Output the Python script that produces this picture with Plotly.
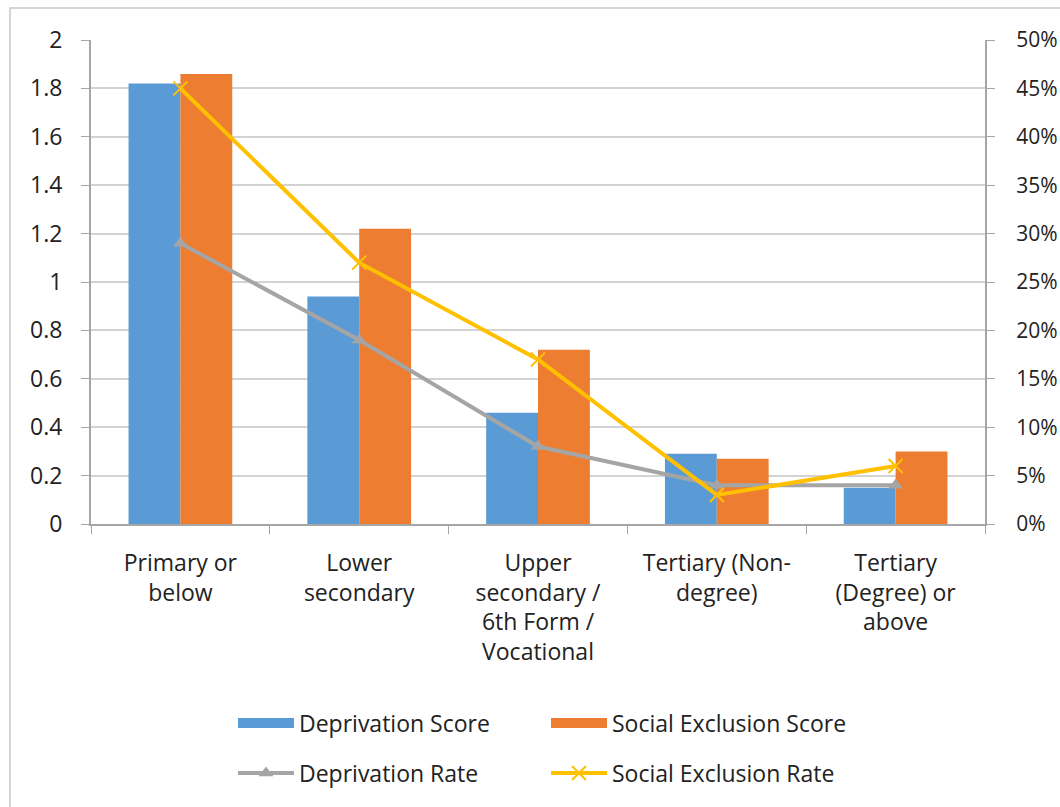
import plotly.graph_objects as go

categories = [
    "Primary or<br>below",
    "Lower<br>secondary",
    "Upper<br>secondary /<br>6th Form /<br>Vocational",
    "Tertiary (Non-<br>degree)",
    "Tertiary<br>(Degree) or<br>above",
]
deprivation_score = [1.82, 0.94, 0.46, 0.29, 0.15]
social_exclusion_score = [1.86, 1.22, 0.72, 0.27, 0.30]
deprivation_rate = [0.29, 0.19, 0.08, 0.04, 0.04]
social_exclusion_rate = [0.45, 0.27, 0.17, 0.03, 0.06]

left_ticks = [0, 0.2, 0.4, 0.6, 0.8, 1, 1.2, 1.4, 1.6, 1.8, 2]
left_labels = ["0", "0.2", "0.4", "0.6", "0.8", "1", "1.2", "1.4", "1.6", "1.8", "2"]
right_ticks = [0, 0.05, 0.10, 0.15, 0.20, 0.25, 0.30, 0.35, 0.40, 0.45, 0.50]
right_labels = ["0%", "5%", "10%", "15%", "20%", "25%", "30%", "35%", "40%", "45%", "50%"]

FONT = "'Open Sans', sans-serif"
FS = 23
TEXT = "#222222"
AXIS = "#a6a6a6"
GRID = "#d3d3d3"
BLUE, ORANGE, GREY, GOLD = "#5B9BD5", "#ED7D31", "#A5A5A5", "#FFC000"

# plot area in pixels
L, R, T, B = 91, 75, 40, 283
W, H = 1060, 807
PW, PH = W - L - R, H - T - B

fig = go.Figure()
fig.add_trace(go.Bar(x=categories, y=deprivation_score, name="Deprivation Score",
                     marker=dict(color=BLUE, line=dict(width=0)), showlegend=False))
fig.add_trace(go.Bar(x=categories, y=social_exclusion_score, name="Social Exclusion Score",
                     marker=dict(color=ORANGE, line=dict(width=0)), showlegend=False))
fig.add_trace(go.Scatter(x=categories, y=deprivation_rate, name="Deprivation Rate", yaxis="y2",
                         mode="lines+markers", legend="legend2",
                         line=dict(color=GREY, width=4),
                         marker=dict(symbol="triangle-up", size=13, color=GREY)))
fig.add_trace(go.Scatter(x=categories, y=social_exclusion_rate, name="Social Exclusion Rate", yaxis="y2",
                         mode="lines+markers", legend="legend2",
                         line=dict(color=GOLD, width=4),
                         marker=dict(symbol="x-thin", size=14, color=GOLD,
                                     line=dict(color=GOLD, width=2))))

# legend keys for the bar series, drawn as wide colour blocks
for name, color in [("Deprivation Score", BLUE), ("Social Exclusion Score", ORANGE)]:
    fig.add_trace(go.Scatter(x=[categories[0]], y=[None], name=name, mode="lines",
                             legend="legend", line=dict(color=color, width=18),
                             hoverinfo="skip"))

legend_common = dict(orientation="h", x=(233 - L) / PW, xanchor="left", yanchor="middle",
                     entrywidth=242, entrywidthmode="pixels", itemwidth=56,
                     font=dict(family=FONT, size=FS, color=TEXT), bgcolor="rgba(0,0,0,0)")

fig.update_layout(
    width=W, height=H,
    margin=dict(l=L, r=R, t=T, b=B, autoexpand=False),
    paper_bgcolor="white", plot_bgcolor="white",
    font=dict(family=FONT, size=FS, color=TEXT),
    barmode="group", bargap=0.42, bargroupgap=0,
    showlegend=True,
    legend=dict(legend_common, y=(T + PH - 723) / PH),
    legend2=dict(legend_common, y=(T + PH - 773) / PH),
    xaxis=dict(type="category", showgrid=False, showline=True, linecolor=AXIS, linewidth=2,
               ticks="outside", tickson="boundaries", ticklen=8, tickcolor=AXIS,
               tickfont=dict(size=FS, color=TEXT), ticklabelstandoff=17, automargin=False),
    yaxis=dict(range=[0, 2], tickvals=left_ticks, ticktext=left_labels,
               showgrid=True, gridcolor=GRID, gridwidth=2,
               showline=True, linecolor=AXIS, linewidth=2,
               ticks="outside", ticklen=8, tickcolor=AXIS,
               tickfont=dict(size=FS, color=TEXT), ticklabelstandoff=14,
               zeroline=False, automargin=False),
    yaxis2=dict(range=[0, 0.5], tickvals=right_ticks, ticktext=right_labels,
                overlaying="y", side="right", showgrid=False,
                showline=True, linecolor=AXIS, linewidth=2,
                ticks="outside", ticklen=8, tickcolor=AXIS,
                tickfont=dict(size=21, color=TEXT), ticklabelstandoff=17,
                zeroline=False, automargin=False),
    shapes=[dict(type="rect", xref="paper", yref="paper",
                 x0=(10 - L) / PW, x1=(1070 - L) / PW,
                 y0=(T + PH - 820) / PH, y1=(T + PH - 8) / PH,
                 line=dict(color="#c8c8c8", width=1.5), layer="below")],
)

fig.write_html("out.html")
